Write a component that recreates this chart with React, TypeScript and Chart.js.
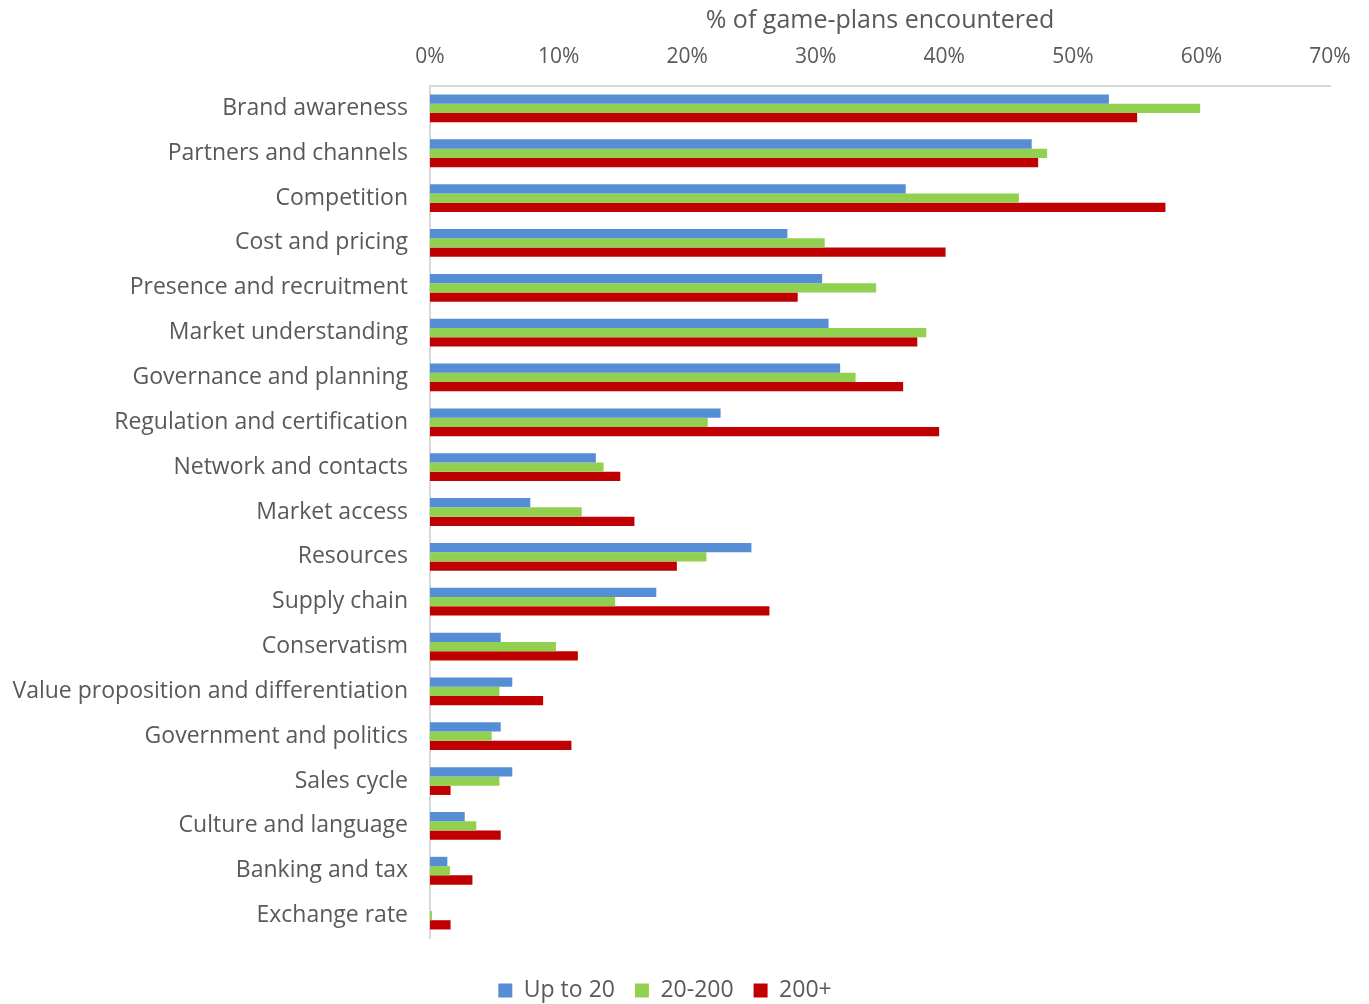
import React, { useEffect, useRef } from "react";
import { Chart, registerables } from "chart.js";

Chart.register(...registerables);

const categories = [
  "Brand awareness",
  "Partners and channels",
  "Competition",
  "Cost and pricing",
  "Presence and recruitment",
  "Market understanding",
  "Governance and planning",
  "Regulation and certification",
  "Network and contacts",
  "Market access",
  "Resources",
  "Supply chain",
  "Conservatism",
  "Value proposition and differentiation",
  "Government and politics",
  "Sales cycle",
  "Culture and language",
  "Banking and tax",
  "Exchange rate",
];

const seriesNames = ["Up to 20", "20-200", "200+"];

const upTo20 = [52.8, 46.8, 37.0, 27.8, 30.5, 31.0, 31.9, 22.6, 12.9, 7.8, 25.0, 17.6, 5.5, 6.4, 5.5, 6.4, 2.7, 1.35, 0];
const mid20to200 = [59.9, 48.0, 45.8, 30.7, 34.7, 38.6, 33.1, 21.6, 13.5, 11.8, 21.5, 14.4, 9.8, 5.4, 4.8, 5.4, 3.6, 1.55, 0.15];
const over200 = [55.0, 47.3, 57.2, 40.1, 28.6, 37.9, 36.8, 39.6, 14.8, 15.9, 19.2, 26.4, 11.5, 8.8, 11.0, 1.6, 5.5, 3.3, 1.6];

const xTicks = [0, 10, 20, 30, 40, 50, 60, 70];
const axisTitle = "% of game-plans encountered";

const colors = ["#558ED5", "#92D050", "#C00000"];
const FONT = "'Open Sans', sans-serif";
const TEXT = "#595959";

export default function App() {
  const ref = useRef<HTMLCanvasElement | null>(null);

  useEffect(() => {
    if (!ref.current) return;
    const data = [upTo20, mid20to200, over200];
    const chart = new Chart(ref.current, {
      type: "bar",
      data: {
        labels: categories,
        datasets: seriesNames.map((name, i) => ({
          label: name,
          data: data[i],
          backgroundColor: colors[i],
          borderWidth: 0,
          categoryPercentage: 0.62,
          barPercentage: 1,
          xAxisID: "x",
        })),
      },
      options: {
        indexAxis: "y",
        animation: false,
        responsive: false,
        layout: { padding: { left: 0, right: 39, top: 0, bottom: -8 } },
        scales: {
          x: {
            type: "linear",
            position: "top",
            min: 0,
            max: 70,
            afterBuildTicks: (s: any) => {
              s.ticks = xTicks.map((v) => ({ value: v }));
            },
            afterFit: (s: any) => {
              s.height = 86;
            },
            grid: { display: false, drawTicks: false },
            border: { display: true, color: "#D9D9D9", width: 2 },
            ticks: {
              color: TEXT,
              font: { family: FONT, size: 21 },
              padding: 16,
              callback: (v: any) => v + "%",
            },
            title: {
              display: true,
              text: axisTitle,
              color: TEXT,
              font: { family: FONT, size: 25 },
              padding: { top: 6, bottom: 0 },
            },
          },
          x2: {
            type: "linear",
            position: "bottom",
            display: true,
            min: 0,
            max: 70,
            afterFit: (s: any) => {
              s.height = 21;
            },
            grid: { display: false, drawTicks: false },
            border: { display: false },
            ticks: { display: false },
          },
          y: {
            type: "category",
            afterFit: (s: any) => {
              s.width = 430;
            },
            grid: { display: false, drawTicks: false },
            border: { display: true, color: "#D9D9D9", width: 2 },
            ticks: {
              color: TEXT,
              font: { family: FONT, size: 23 },
              padding: 22,
              autoSkip: false,
            },
          },
        },
        plugins: {
          legend: {
            display: true,
            position: "bottom",
            labels: {
              color: TEXT,
              font: { family: FONT, size: 23 },
              boxWidth: 14,
              boxHeight: 14,
              padding: 20,
            },
          },
          tooltip: { enabled: false },
        },
      },
    });
    return () => chart.destroy();
  }, []);

  return (
    <div style={{ position: "absolute", left: 0, top: 0, width: 1369, height: 1004, background: "#fff", overflow: "hidden" }}>
      <canvas ref={ref} width={1369} height={1004} style={{ width: 1369, height: 1004 }} />
    </div>
  );
}
